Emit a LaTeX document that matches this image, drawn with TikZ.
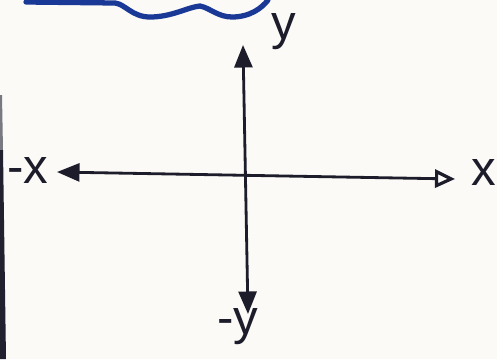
\documentclass[tikz,border=0pt]{standalone}
\usepackage{fontspec}
\setmainfont{Liberation Sans}
\usetikzlibrary{arrows.meta}

\definecolor{paper}{RGB}{251,250,247}
\definecolor{ink}{RGB}{28,28,42}
\definecolor{cloudblue}{RGB}{26,56,150}
\definecolor{edge}{RGB}{32,32,46}

\begin{document}
\begin{tikzpicture}[
    x=0.02cm, y=-0.02cm,
    axis/.style={ink, line width=1.6pt, {Triangle[length=4.5mm, width=3.6mm]}-{Triangle[length=4.5mm, width=3.6mm]}},
    haxis/.style={ink, line width=1.6pt, {Triangle[length=4.5mm, width=3.6mm]}-{Triangle[open, length=4mm, width=3.6mm, line width=1.8pt]}},
    lbl/.style={ink, font=\fontsize{28}{32}\selectfont, inner sep=0pt}
]
\fill[paper] (0,0) rectangle (497,359);
\useasboundingbox (0,0) rectangle (497,359);
\fill[edge!60] (0,95) -- (2,95) -- (3,150) -- (0,150) -- cycle;
\fill[edge] (0,150) -- (3,150) -- (6,359) -- (0,359) -- cycle;

% cloud edge
\draw[cloudblue, line width=3pt, line cap=round]
    (26,2) -- (115,3) .. controls (125,4) and (132,17) .. (150,17)
    .. controls (172,17) and (188,7) .. (200,6)
    .. controls (210,8) and (218,17) .. (232,17)
    .. controls (250,17) and (262,8) .. (268,0);

\coordinate (top) at (243,45);
\coordinate (bottom) at (248,314);
\coordinate (left) at (57,172);
\coordinate (right) at (455,179);

\draw[axis] (bottom) -- (top);
\draw[haxis] (left) -- (right);

\node[lbl] (ypos) at (284,32) {y};
\node[lbl] (yneg) at (238,327) {-y};
\node[lbl] (xneg) at (28,170) {-x};
\node[lbl] (xpos) at (484,172) {x};
\end{tikzpicture}
\end{document}
